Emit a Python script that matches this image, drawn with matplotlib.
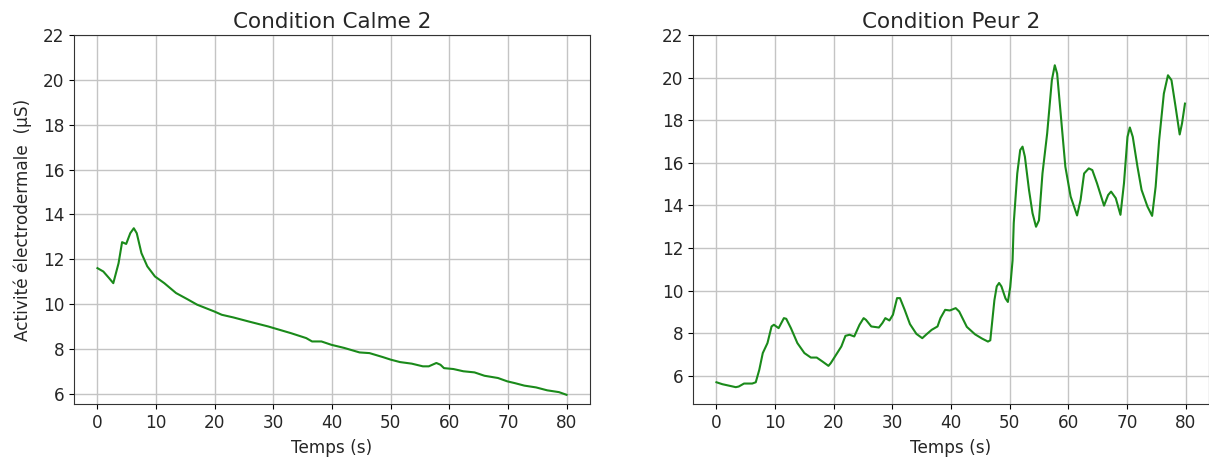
import matplotlib
matplotlib.use("Agg")
import matplotlib.pyplot as plt

# Condition Calme 2
calme_t = [0, 1, 2.0, 2.7, 3.6, 4.2, 4.9, 5.6, 6.2, 6.7, 7.5, 8.5, 9.8, 11.4, 13.4,
           15.3, 17.0, 19.9, 21.2, 23.2, 25.8, 29.1, 30.0, 33.0, 35.6, 36.6, 38.2,
           39.9, 42.1, 44.7, 46.4, 48.7, 50.0, 51.6, 53.6, 55.5, 56.5, 57.8, 58.5,
           59.1, 60.7, 62.4, 64.3, 66.0, 68.3, 69.9, 71.2, 72.8, 74.8, 76.7, 78.7, 80.0]
calme_v = [11.6, 11.45, 11.15, 10.93, 11.82, 12.76, 12.68, 13.16, 13.38, 13.16, 12.27,
           11.68, 11.23, 10.93, 10.49, 10.22, 9.97, 9.67, 9.52, 9.40, 9.22, 9.00, 8.93,
           8.70, 8.48, 8.33, 8.33, 8.18, 8.04, 7.84, 7.81, 7.63, 7.52, 7.41, 7.34, 7.22,
           7.22, 7.37, 7.29, 7.14, 7.10, 7.00, 6.95, 6.80, 6.70, 6.55, 6.47, 6.36, 6.28,
           6.15, 6.07, 5.95]

# Condition Peur 2
peur_t = [0, 1, 3.3, 3.8, 4.7, 6.1, 6.7, 7.3, 7.9, 8.7, 9.4, 9.8, 10.6, 11.5, 11.9,
          12.7, 13.8, 15.0, 16.1, 17.1, 18.1, 19.1, 19.5, 20.4, 21.3, 22.0, 22.7, 23.5,
          24.4, 25.1, 25.5, 26.4, 27.7, 28.3, 28.8, 29.5, 30.1, 30.8, 31.3, 32.1, 33.0,
          34.1, 35.1, 35.9, 36.7, 37.7, 38.2, 39.0, 39.8, 40.8, 41.4, 42.7, 44.1, 45.3,
          46.3, 46.7, 47.4, 47.8, 48.2, 48.6, 49.3, 49.7, 50.1, 50.5, 50.7, 51.3, 51.8,
          52.2, 52.6, 53.3, 53.9, 54.5, 55.0, 55.6, 56.4, 57.2, 57.7, 58.1, 58.7, 59.5,
          60.4, 61.5, 62.1, 62.7, 63.5, 64.1, 64.9, 66.1, 66.8, 67.3, 68.1, 68.9, 69.5,
          70.1, 70.5, 71.0, 71.8, 72.5, 73.5, 74.3, 74.9, 75.5, 76.3, 77.0, 77.6, 78.3,
          79.0, 79.4, 79.9]
peur_v = [5.70, 5.61, 5.47, 5.50, 5.64, 5.64, 5.70, 6.28, 7.07, 7.54, 8.32, 8.40, 8.24,
          8.71, 8.68, 8.24, 7.54, 7.07, 6.86, 6.86, 6.67, 6.47, 6.60, 6.99, 7.38, 7.88,
          7.93, 7.85, 8.40, 8.71, 8.63, 8.32, 8.27, 8.48, 8.71, 8.60, 8.87, 9.65, 9.65,
          9.10, 8.43, 7.97, 7.77, 7.97, 8.16, 8.32, 8.71, 9.10, 9.07, 9.18, 9.02, 8.30,
          7.95, 7.75, 7.61, 7.67, 9.55, 10.20, 10.36, 10.20, 9.63, 9.47, 10.17, 11.42,
          13.17, 15.50, 16.60, 16.76, 16.29, 14.73, 13.64, 13.00, 13.30, 15.50, 17.38,
          19.88, 20.58, 20.19, 18.32, 15.82, 14.42, 13.53, 14.26, 15.50, 15.74, 15.66,
          15.04, 13.99, 14.49, 14.65, 14.34, 13.56, 15.04, 17.22, 17.66, 17.22, 15.82,
          14.73, 13.95, 13.51, 14.88, 17.07, 19.25, 20.11, 19.88, 18.63, 17.33, 17.85,
          18.78]

titles = ["Condition Calme 2", "Condition Peur 2"]
xticks = [0, 10, 20, 30, 40, 50, 60, 70, 80]
yticks = [6, 8, 10, 12, 14, 16, 18, 20, 22]

W, H = 1209, 463
fig = plt.figure(figsize=(W / 100, H / 100), dpi=100)
ax1 = fig.add_axes([74 / W, (H - 404) / H, 516 / W, 369 / H])
ax2 = fig.add_axes([693 / W, (H - 404) / H, 516 / W, 369 / H])

line_color = "#1a8a1a"
txt = "#262626"
for ax, t, v, title, ylim in [(ax1, calme_t, calme_v, titles[0], (5.54, 22)),
                              (ax2, peur_t, peur_v, titles[1], (4.68, 22))]:
    ax.plot(t, v, color=line_color, lw=1.5)
    ax.set_xlim(-4, 84)
    ax.set_ylim(*ylim)
    ax.set_xticks(xticks)
    ax.set_yticks(yticks)
    ax.grid(True, color="#c4c4c4", lw=1.0)
    ax.set_axisbelow(True)
    ax.set_title(title, fontsize=15.5, pad=5, color=txt)
    ax.set_xlabel("Temps (s)", fontsize=12.2, color=txt, labelpad=5)
    ax.tick_params(labelsize=12.2, labelcolor=txt)
    for s in ax.spines.values():
        s.set_color("#333333")

ax1.set_ylabel("Activité électrodermale  (µS)", fontsize=12.2, color=txt, labelpad=8)

fig.savefig("out.png", dpi=100)
